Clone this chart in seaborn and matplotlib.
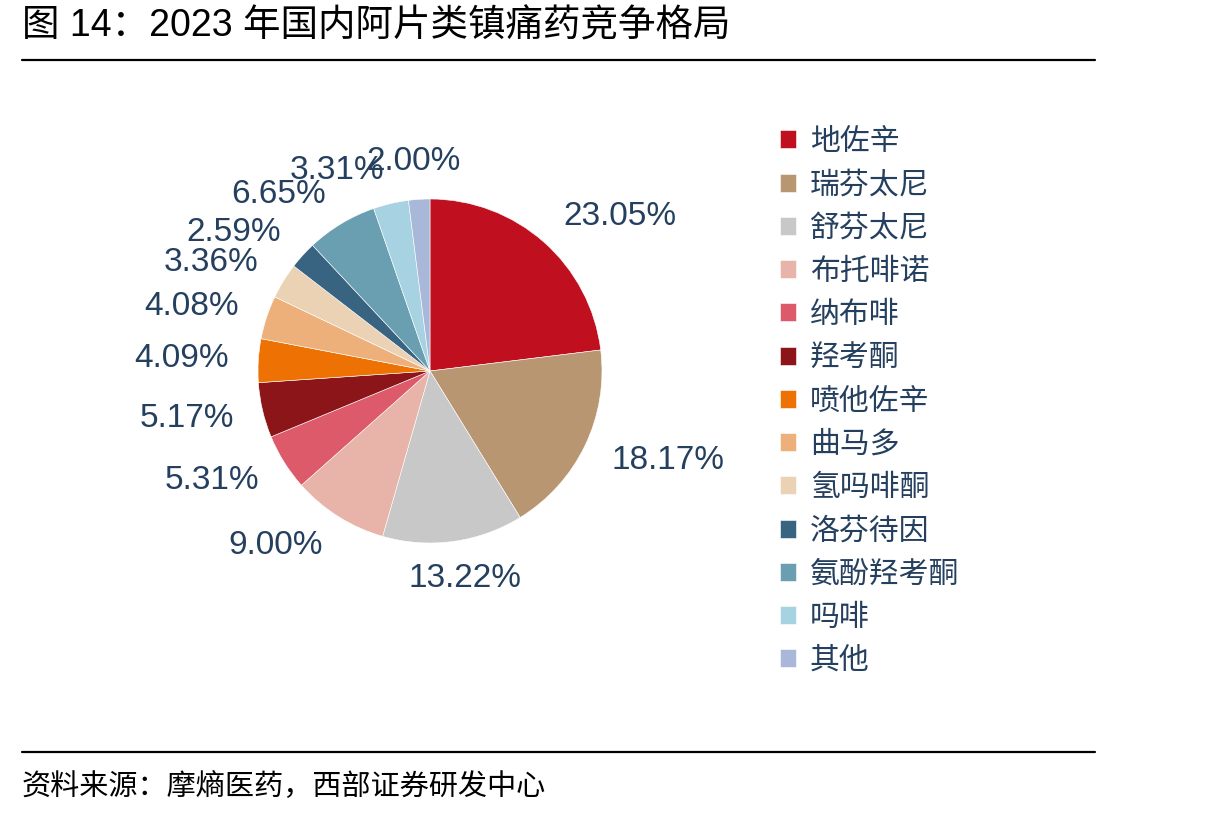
import matplotlib

matplotlib.use("Agg")
import matplotlib.pyplot as plt
import numpy as np
import seaborn as sns

sns.set_theme(style="white")
plt.rcParams["font.family"] = ["Liberation Sans", "Noto Sans CJK SC"]

NAVY = "#25405f"

drugs = ["地佐辛", "瑞芬太尼", "舒芬太尼", "布托啡诺", "纳布啡", "羟考酮", "喷他佐辛",
         "曲马多", "氢吗啡酮", "洛芬待因", "氨酚羟考酮", "吗啡", "其他"]
shares = [23.05, 18.17, 13.22, 9.00, 5.31, 5.17, 4.09, 4.08, 3.36, 2.59, 6.65, 3.31, 2.00]
colors = sns.color_palette(["#c00f1e", "#b99672", "#c8c8c8", "#e8b3a8", "#dc5a6a",
                            "#8b1518", "#ee7203", "#eeb07a", "#ebd2b5", "#386482",
                            "#6a9fb2", "#a7d2e2", "#a9b8d8"])

fig = plt.figure(figsize=(12.15, 8.17), dpi=100)

# title + rules
fig.text(22 / 1215, 1 - 27 / 817, "图 14：2023 年国内阿片类镇痛药竞争格局",
         fontsize=27, color="black", ha="left", va="center")
fig.add_artist(plt.Line2D([22 / 1215, 1095 / 1215], [1 - 60 / 817] * 2,
                          color="black", lw=1.6))
fig.add_artist(plt.Line2D([22 / 1215, 1095 / 1215], [1 - 752 / 817] * 2,
                          color="black", lw=1.6))
fig.text(22 / 1215, 1 - 787 / 817, "资料来源：摩熵医药，西部证券研发中心",
         fontsize=21, color="black", ha="left", va="center",
         family=["Noto Sans CJK SC"])

# pie
ax = fig.add_axes([(430 - 215) / 1215, (817 - 371 - 215) / 817, 430 / 1215, 430 / 817])
wedges, _ = ax.pie(shares, colors=colors, startangle=90, counterclock=False,
                   wedgeprops=dict(edgecolor="white", linewidth=0.4))
ax.set_aspect("equal")

for w, v in zip(wedges, shares):
    mid = np.deg2rad((w.theta1 + w.theta2) / 2)
    x, y = 1.17 * np.cos(mid), 1.2 * np.sin(mid)
    if abs(np.cos(mid)) < 0.2:
        ha = "center"
        x = 1.5 * np.cos(mid)
        y = 1.22 * np.sin(mid)
    else:
        ha = "left" if x > 0 else "right"
    ax.text(x, y, f"{v:.2f}%", ha=ha, va="center", fontsize=24, color=NAVY,
            family=["Liberation Sans"])

leg = fig.legend(wedges, drugs, loc="upper left", bbox_to_anchor=(768 / 1215, 1 - 114 / 817),
                 frameon=False, handlelength=0.55, handleheight=0.55,
                 handletextpad=0.45, labelspacing=0.41, borderaxespad=0,
                 prop={"family": ["Noto Sans CJK SC"], "size": 21.5})
for t in leg.get_texts():
    t.set_color(NAVY)

fig.savefig("out.png", dpi=100)
